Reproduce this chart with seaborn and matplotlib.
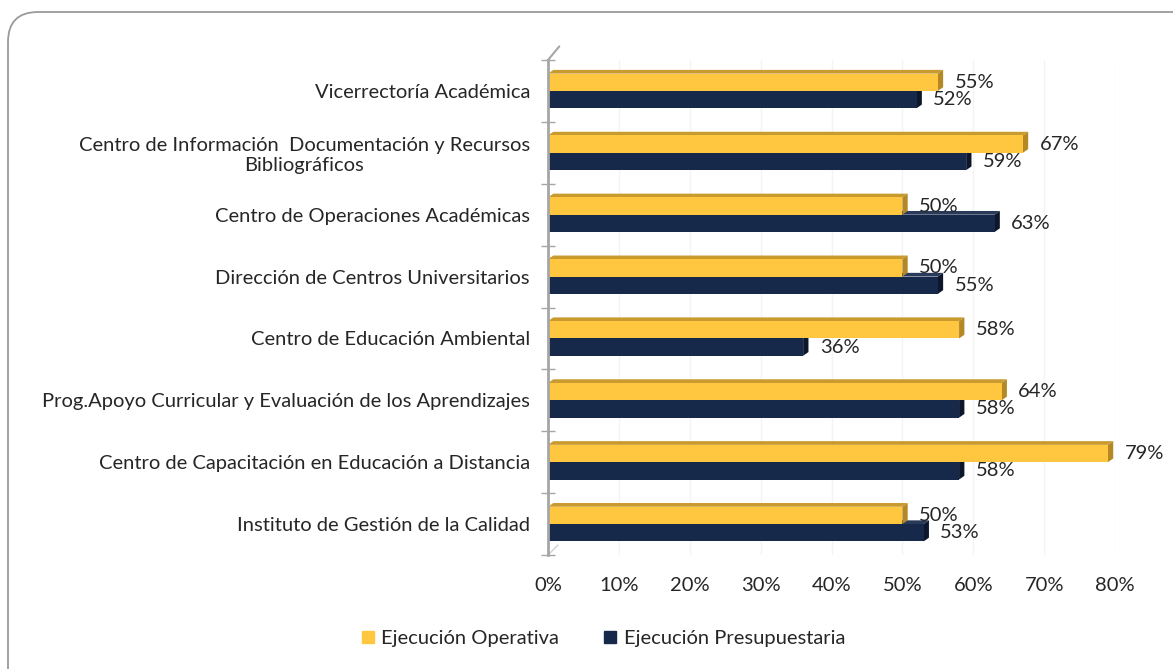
import pandas as pd
import numpy as np
import matplotlib
matplotlib.use("Agg")
import matplotlib.pyplot as plt
import seaborn as sns
from matplotlib.patches import Polygon, FancyBboxPatch
from matplotlib.ticker import PercentFormatter, FixedLocator
from matplotlib.lines import Line2D

# --- datos ---
unidades = [
    "Vicerrectoría Académica",
    "Centro de Información  Documentación y Recursos\nBibliográficos",
    "Centro de Operaciones Académicas",
    "Dirección de Centros Universitarios",
    "Centro de Educación Ambiental",
    "Prog.Apoyo Curricular y Evaluación de los Aprendizajes",
    "Centro de Capacitación en Educación a Distancia",
    "Instituto de Gestión de la Calidad",
]
ejec_operativa = [0.55, 0.67, 0.50, 0.50, 0.58, 0.64, 0.79, 0.50]
ejec_presupuestaria = [0.52, 0.59, 0.63, 0.55, 0.36, 0.58, 0.58, 0.53]
series = ["Ejecución Operativa", "Ejecución Presupuestaria"]

AMARILLO = "#FFC740"
AZUL = "#17294A"
# caras laterales (efecto 3D)
LADO = {AMARILLO: ("#C99A2E", "#B58826"), AZUL: ("#2A3A5A", "#0C172C")}

df = pd.DataFrame({
    "unidad": unidades * 2,
    "serie": [series[0]] * len(unidades) + [series[1]] * len(unidades),
    "valor": ejec_operativa + ejec_presupuestaria,
})

sns.set_style("white")
plt.rcParams["font.family"] = ["Lato", "DejaVu Sans"]
TXT = "#262626"
FS = 14.5

fig = plt.figure(figsize=(11.73, 6.69), dpi=100)
ax = fig.add_axes([548 / 1173, (669 - 555) / 669, (1115 - 548) / 1173, 495 / 669])

sns.barplot(data=df, y="unidad", x="valor", hue="serie", orient="h",
            palette=[AMARILLO, AZUL], width=0.56, saturation=1,
            linewidth=0, edgecolor="none", ax=ax, zorder=3)

ax.set_xlim(0, 0.8)
ax.set_ylim(len(unidades) - 0.5, -0.5)
ax.set_xlabel("")
ax.set_ylabel("")

# --- efecto 3D: cara superior y lateral de cada barra ---
dx = 0.0075   # profundidad en unidades de x
dy = 0.06     # profundidad en unidades de categoria
for k, cont in enumerate(ax.containers):
    for bar in cont:
        color = AMARILLO if k == 0 else AZUL
        top_c, side_c = LADO[color]
        x0, y0 = bar.get_x(), bar.get_y()
        w, h = bar.get_width(), bar.get_height()
        ytop = y0  # eje invertido: y0 es el borde superior
        top = Polygon([(x0, ytop), (x0 + w, ytop), (x0 + w + dx, ytop - dy), (x0 + dx, ytop - dy)],
                      closed=True, facecolor=top_c, edgecolor="none", zorder=2.5 if k else 3.5)
        side = Polygon([(x0 + w, ytop), (x0 + w + dx, ytop - dy), (x0 + w + dx, ytop + h - dy), (x0 + w, ytop + h)],
                       closed=True, facecolor=side_c, edgecolor="none", zorder=2.5 if k else 3.5)
        ax.add_patch(top)
        ax.add_patch(side)
        bar.set_zorder(3 if k else 4)

# --- etiquetas de datos ---
for cont, vals in zip(ax.containers, [ejec_operativa, ejec_presupuestaria]):
    ax.bar_label(cont, labels=[f"{v * 100:.0f}%" for v in vals], padding=12,
                 fontsize=FS, color=TXT, zorder=6)

# --- ejes ---
ax.xaxis.set_major_formatter(PercentFormatter(1.0, decimals=0))
ax.set_xticks(np.arange(0, 0.81, 0.1))
ax.tick_params(axis="x", length=0, labelsize=FS, colors=TXT, pad=16)
ax.tick_params(axis="y", which="major", length=0, labelsize=FS, colors=TXT, pad=13)
for lbl in ax.get_yticklabels():
    lbl.set_multialignment("center")

ax.grid(axis="x", color="#F4F4F4", linewidth=1, zorder=0)
for s in ["top", "right", "bottom"]:
    ax.spines[s].set_visible(False)
ax.spines["left"].set_color("#A6A6A6")
ax.spines["left"].set_linewidth(2)
ax.spines["left"].set_zorder(5)

# marcas entre categorias
ax.yaxis.set_minor_locator(FixedLocator(np.arange(-0.5, len(unidades), 1.0)))
ax.tick_params(axis="y", which="minor", left=True, length=10, width=1,
               color="#A6A6A6", direction="inout")

# lineas de perspectiva del eje
ax.plot([0, 0.016], [-0.5, -0.72], color="#A6A6A6", lw=1.5, clip_on=False, zorder=5)
ax.plot([0, 0.014], [len(unidades) - 0.5, len(unidades) - 0.66], color="#D0D0D0", lw=1, clip_on=False, zorder=5)

# --- leyenda ---
handles = [Line2D([], [], marker="s", linestyle="none", markersize=9,
                  markerfacecolor=c, markeredgecolor=c) for c in (AMARILLO, AZUL)]
ax.get_legend().remove()
fig.legend(handles, series, loc="center", bbox_to_anchor=(603 / 1173, 1 - 638 / 669),
           ncol=2, frameon=False, fontsize=FS, handlelength=0.7, handletextpad=0.3,
           columnspacing=2.2, labelcolor=TXT)

# --- marco redondeado ---
marco = FancyBboxPatch((8, -30), 1200, 669 + 30 - 12, boxstyle="round,pad=0,rounding_size=30",
                       transform=None, facecolor="none", edgecolor="#9A9A9A", linewidth=1.3)
fig.patches.append(marco)

fig.savefig("out.png", dpi=100)
